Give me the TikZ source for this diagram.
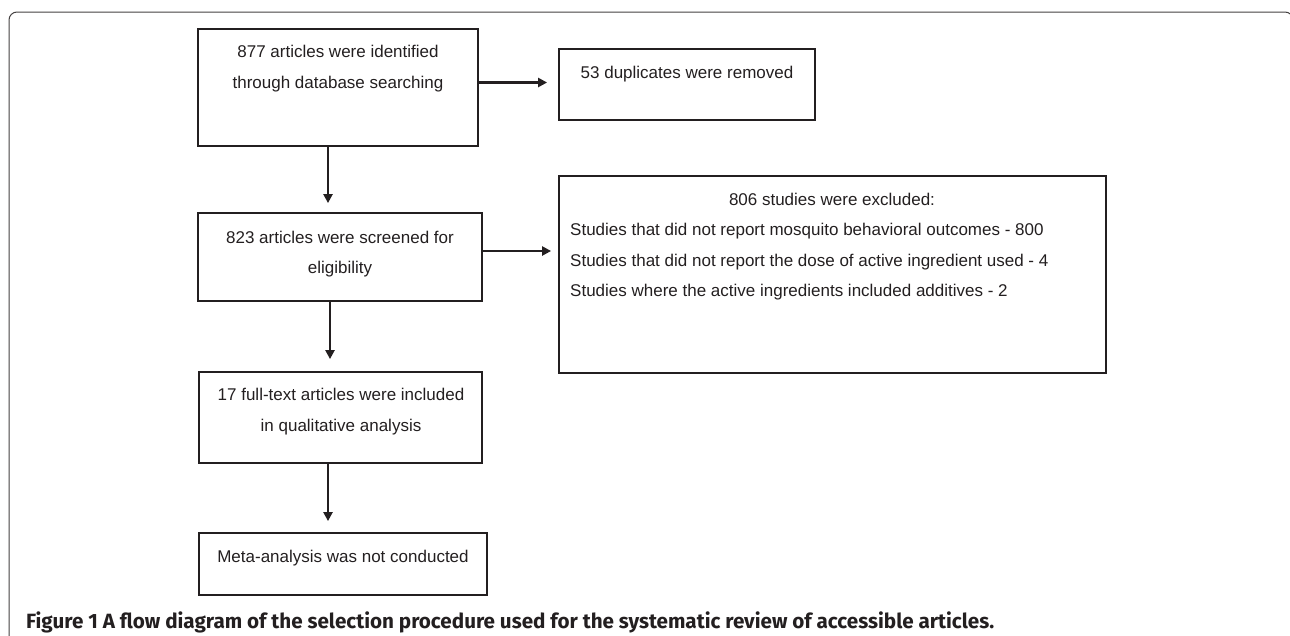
\documentclass[tikz,border=0pt]{standalone}
\usepackage{fontspec}
\setmainfont{Liberation Sans}
\newfontfamily\captfont{Fira Sans}
\usetikzlibrary{arrows.meta,calc}
\definecolor{ink}{HTML}{231F20}
\begin{document}
\begin{tikzpicture}[x=1pt,y=-1pt,
  box/.style={draw=ink,line width=1.8pt,inner sep=0pt},
  txt/.style={text=ink,font=\fontsize{17pt}{20pt}\selectfont,inner sep=0pt,anchor=base},
  ltxt/.style={txt,anchor=base west},
  arr/.style={draw=ink,line width=2.6pt,-{Triangle[length=9pt,width=9pt]}},
  frame/.style={draw=ink!85,line width=1pt,rounded corners=8pt}]
\useasboundingbox (0,0) rectangle (1290,635);
% outer frame
\draw[frame] (9,640) -- (9,12) -- (1293,12) -- (1293,40);
% boxes
\node[box,minimum width=280pt,minimum height=117pt] (b1) at (338,87.5) {};
\node[box,minimum width=256pt,minimum height=71pt] (b2) at (687,84.5) {};
\node[box,minimum width=284pt,minimum height=88pt] (b3) at (340,257) {};
\node[box,minimum width=547pt,minimum height=197pt] (b4) at (832.5,274.5) {};
\node[box,minimum width=283pt,minimum height=91pt] (b5) at (340.5,417.5) {};
\node[box,minimum width=288pt,minimum height=62pt] (b6) at (343,564) {};
% texts
\node[txt] (t1a) at (338,57) {877 articles were identified};
\node[txt] (t1b) at (338,88) {through database searching};
\node[txt] (t2) at (687,78) {53 duplicates were removed};
\node[txt] (t3a) at (340,243) {823 articles were screened for};
\node[txt] (t3b) at (340,273) {eligibility};
\node[txt] (t4) at (832,205) {806 studies were excluded:};
\node[ltxt] (t4a) at (570,235) {Studies that did not report mosquito behavioral outcomes - 800};
\node[ltxt] (t4b) at (570,266) {Studies that did not report the dose of active ingredient used - 4};
\node[ltxt] (t4c) at (570,296) {Studies where the active ingredients included additives - 2};
\node[txt] (t5a) at (341,400) {17 full-text articles were included};
\node[txt] (t5b) at (341,431) {in qualitative analysis};
\node[txt] (t6) at (343,562) {Meta-analysis was not conducted};
% connectors
\coordinate (a1s) at ([yshift=5pt]b1.east);
\draw[arr] (a1s) -- ($(a1s -| b2.west)+(-11,0)$);
\draw[arr] ([xshift=-10pt]b1.south) -- ($([xshift=-10pt]b1.south |- b3.north)+(0,-9)$);
\coordinate (a3s) at ([yshift=6pt]b3.east);
\draw[arr] (a3s) -- ($(a3s -| b4.west)+(-7,0)$);
\draw[arr] ([xshift=-10pt]b3.south) -- ($([xshift=-10pt]b3.south |- b5.north)+(0,-12)$);
\draw[arr] ([xshift=-12.5pt]b5.south) -- ($([xshift=-12.5pt]b5.south |- b6.north)+(0,-11)$);
% caption
\node[anchor=base west,inner sep=0pt,text=ink] (cap) at (26,628)
  {\resizebox{968pt}{!}{\captfont\bfseries Figure 1 A flow diagram of the selection procedure used for the systematic review of accessible articles.}};
\end{tikzpicture}
\end{document}
